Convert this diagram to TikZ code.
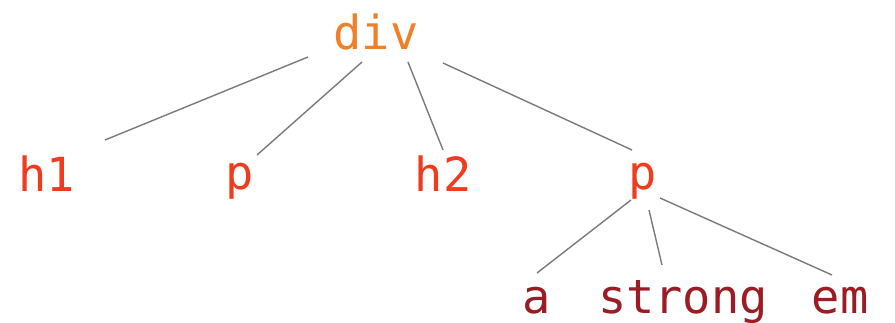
\documentclass[tikz,border=0pt]{standalone}
\usepackage{fontspec}
\newfontfamily\codefont{DejaVu Sans Mono}
\definecolor{cdiv}{HTML}{F07F2A}
\definecolor{cmid}{HTML}{F03C1E}
\definecolor{cbot}{HTML}{9B1C24}
\definecolor{cedge}{HTML}{7A7A7A}
\tikzset{
  tag/.style={anchor=base, inner sep=0pt, font=\codefont\fontsize{47}{50}\selectfont},
  edge/.style={draw=cedge, line width=1.4pt}
}
\begin{document}
\begin{tikzpicture}[x=1pt,y=-1pt]
\useasboundingbox (0,0) rectangle (895,323);
\node[tag, text=cdiv] (div) at (376,50) {div};
\node[tag, text=cmid] (h1) at (47,192) {h1};
\node[tag, text=cmid] (p1) at (240,190) {p};
\node[tag, text=cmid] (h2) at (443,192) {h2};
\node[tag, text=cmid] (p2) at (643,190) {p};
\node[tag, text=cbot] (a) at (537,313) {a};
\node[tag, text=cbot] (strong) at (683,313) {strong};
\node[tag, text=cbot] (em) at (840,313) {em};
\draw[edge] ([shift={(-68,7)}]div.base) -- ([shift={(58,-52)}]h1.base);
\draw[edge] ([shift={(-14,12)}]div.base) -- ([shift={(17,-35)}]p1.base);
\draw[edge] ([shift={(32,12)}]div.base) -- ([shift={(0,-42)}]h2.base);
\draw[edge] ([shift={(67,13)}]div.base) -- ([shift={(-11,-40)}]p2.base);
\draw[edge] ([shift={(-12,10)}]p2.base) -- ([shift={(0,-40)}]a.base);
\draw[edge] ([shift={(6,20)}]p2.base) -- ([shift={(-21,-48)}]strong.base);
\draw[edge] ([shift={(17,8)}]p2.base) -- ([shift={(-8,-38)}]em.base);
\end{tikzpicture}
\end{document}
